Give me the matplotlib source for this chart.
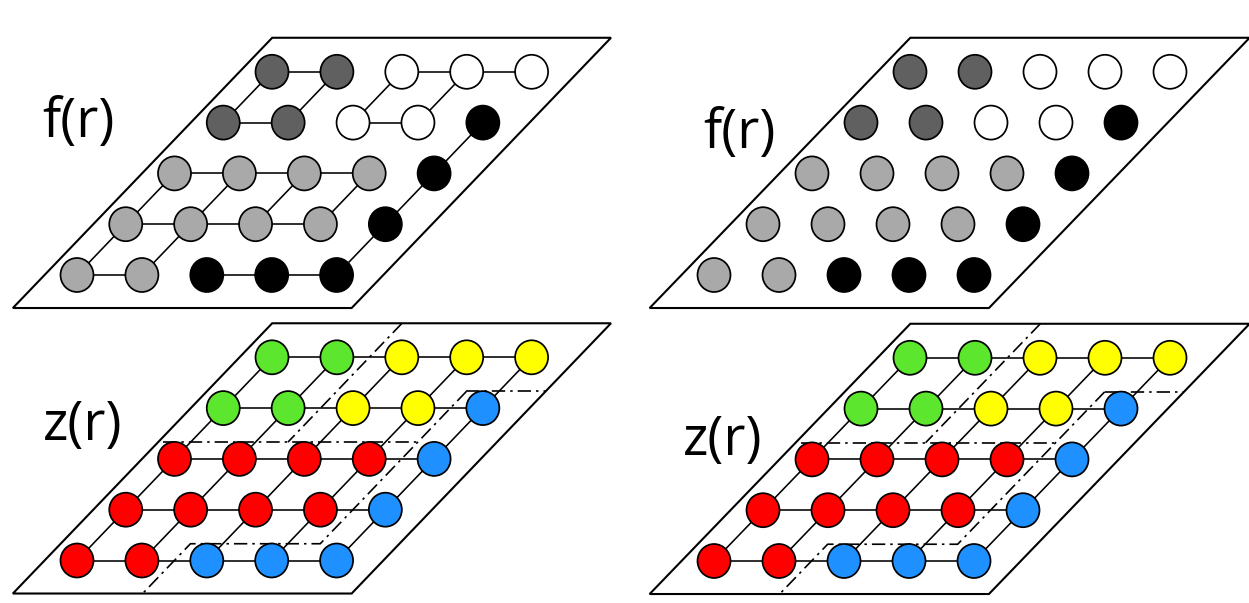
import matplotlib
matplotlib.use('Agg')
import matplotlib.pyplot as plt
from matplotlib.patches import Ellipse, Polygon

# domain of each lattice site, top row first
domains = [
    ['D', 'D', 'W', 'W', 'W'],
    ['D', 'D', 'W', 'W', 'K'],
    ['L', 'L', 'L', 'L', 'K'],
    ['L', 'L', 'L', 'L', 'K'],
    ['L', 'L', 'K', 'K', 'K'],
]
gray_colors = {'D': '#606060', 'W': '#ffffff', 'K': '#000000', 'L': '#a9a9a9'}
z_colors = {'D': '#5ce62d', 'W': '#ffff00', 'K': '#1e90ff', 'L': '#ff0000'}

# domain walls, lattice coords (i along a row, j counted up from bottom row)
walls = [
    [(1.5, 4.67), (1.5, 2.33)],
    [(-0.42, 2.33), (3.5, 2.33)],
    [(3.5, 3.33), (4.72, 3.33)],
    [(3.5, 3.33), (3.5, 0.33), (1.5, 0.33), (1.5, -0.65)],
]

# panel layout: origin = bottom-left site in pixels
panels = [
    dict(org=(77, 275), dx=64.9, sh=48.75, dy=50.8, pal=gray_colors, bonds='same',
         walls=False, label='f(r)', lab=(42, 137)),
    dict(org=(714, 275), dx=65.0, sh=49.0, dy=50.8, pal=gray_colors, bonds='none',
         walls=False, label='f(r)', lab=(703, 148)),
    dict(org=(77, 560.5), dx=64.9, sh=48.75, dy=50.8, pal=z_colors, bonds='all',
         walls=True, label='z(r)', lab=(43, 440)),
    dict(org=(714, 561), dx=65.0, sh=49.0, dy=50.8, pal=z_colors, bonds='all',
         walls=True, label='z(r)', lab=(683, 455)),
]

fig = plt.figure(figsize=(12.49, 6.03), dpi=100)
ax = fig.add_axes([0, 0, 1, 1])
ax.set_xlim(0, 1249)
ax.set_ylim(603, 0)
ax.axis('off')

nrow = len(domains)
ncol = len(domains[0])

for p in panels:
    x0, y0 = p['org']

    def pos(i, j, p=p, x0=x0, y0=y0):
        return x0 + i * p['dx'] + j * p['sh'], y0 - j * p['dy']

    # frame
    corners = [pos(-0.5, -0.65), pos(4.72, -0.65), pos(4.72, 4.67), pos(-0.5, 4.67)]
    ax.add_patch(Polygon(corners, closed=True, facecolor='white', edgecolor='black',
                         lw=1.5, zorder=1))

    def dom(i, j):
        return domains[nrow - 1 - j][i]

    # bonds
    if p['bonds'] != 'none':
        for j in range(nrow):
            for i in range(ncol):
                for di, dj in [(1, 0), (0, 1)]:
                    i2, j2 = i + di, j + dj
                    if i2 >= ncol or j2 >= nrow:
                        continue
                    if p['bonds'] == 'same' and dom(i, j) != dom(i2, j2):
                        continue
                    xa, ya = pos(i, j)
                    xb, yb = pos(i2, j2)
                    ax.plot([xa, xb], [ya, yb], color='black', lw=1.15, zorder=2)

    # domain walls
    if p['walls']:
        for w in walls:
            pts = [pos(i, j) for i, j in w]
            ax.plot([q[0] for q in pts], [q[1] for q in pts], color='black', lw=1.2,
                    dashes=(8, 3, 1.5, 3), zorder=3)

    # sites
    for j in range(nrow):
        for i in range(ncol):
            xc, yc = pos(i, j)
            ax.add_patch(Ellipse((xc, yc), 33, 34, facecolor=p['pal'][dom(i, j)],
                                 edgecolor='black', lw=1.25, zorder=4))

    ax.text(p['lab'][0], p['lab'][1], p['label'], fontsize=39, family='Open Sans',
            ha='left', va='baseline', color='black')

fig.savefig('out.png', dpi=100)
